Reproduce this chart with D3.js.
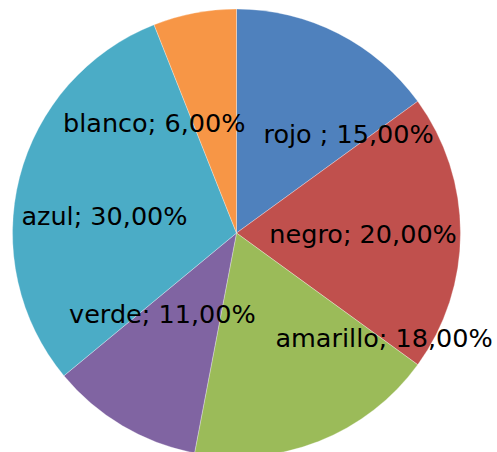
<html>

<head>
    <script src="https://d3js.org/d3.v7.min.js"></script>
    <style>
        body { margin: 0; background: white; }
        .label { font-family: "DejaVu Sans", sans-serif; font-size: 25.5px; fill: black; }
    </style>
</head>

<body>
    <svg id="pie" width="497" height="452"></svg>
    <script>
        const categories = ["rojo ", "negro", "amarillo", "verde", "azul", "blanco"];
        const values = [15, 20, 18, 11, 30, 6];
        const colors = ["#4F81BD", "#C0504D", "#9BBB59", "#8064A2", "#4BACC6", "#F79646"];
        // label nudges from the arc centroid (best fit placement)
        const labelNudge = [[46, 31], [-19, 1], [94, -30], [0, -44], [9, 19], [-55, 33]];

        const svg = d3.select("#pie");
        const cx = 236.5, cy = 233, radius = 224;

        const pie = d3.pie().sort(null).value(d => d.value);
        const data = categories.map((c, i) => ({ name: c, value: values[i], i: i }));
        const arcs = pie(data);

        const arc = d3.arc().innerRadius(0).outerRadius(radius);
        const labelArc = d3.arc().innerRadius(radius * 0.65).outerRadius(radius * 0.65);

        const g = svg.append("g").attr("transform", `translate(${cx},${cy})`);

        g.selectAll("path.slice").data(arcs)
            .join("path")
            .attr("class", "slice")
            .attr("d", arc)
            .attr("fill", d => colors[d.data.i])
            .attr("stroke", "white")
            .attr("stroke-opacity", 0.4)
            .attr("stroke-width", 0.75);

        const fmt = v => d3.format(".2f")(v).replace(".", ",") + "%";

        g.selectAll("text.label").data(arcs)
            .join("text")
            .attr("class", "label")
            .attr("text-anchor", "middle")
            .attr("dy", "0.35em")
            .attr("x", d => labelArc.centroid(d)[0] + labelNudge[d.data.i][0])
            .attr("y", d => labelArc.centroid(d)[1] + labelNudge[d.data.i][1])
            .text(d => d.data.name + "; " + fmt(d.data.value));
    </script>
</body>

</html>
